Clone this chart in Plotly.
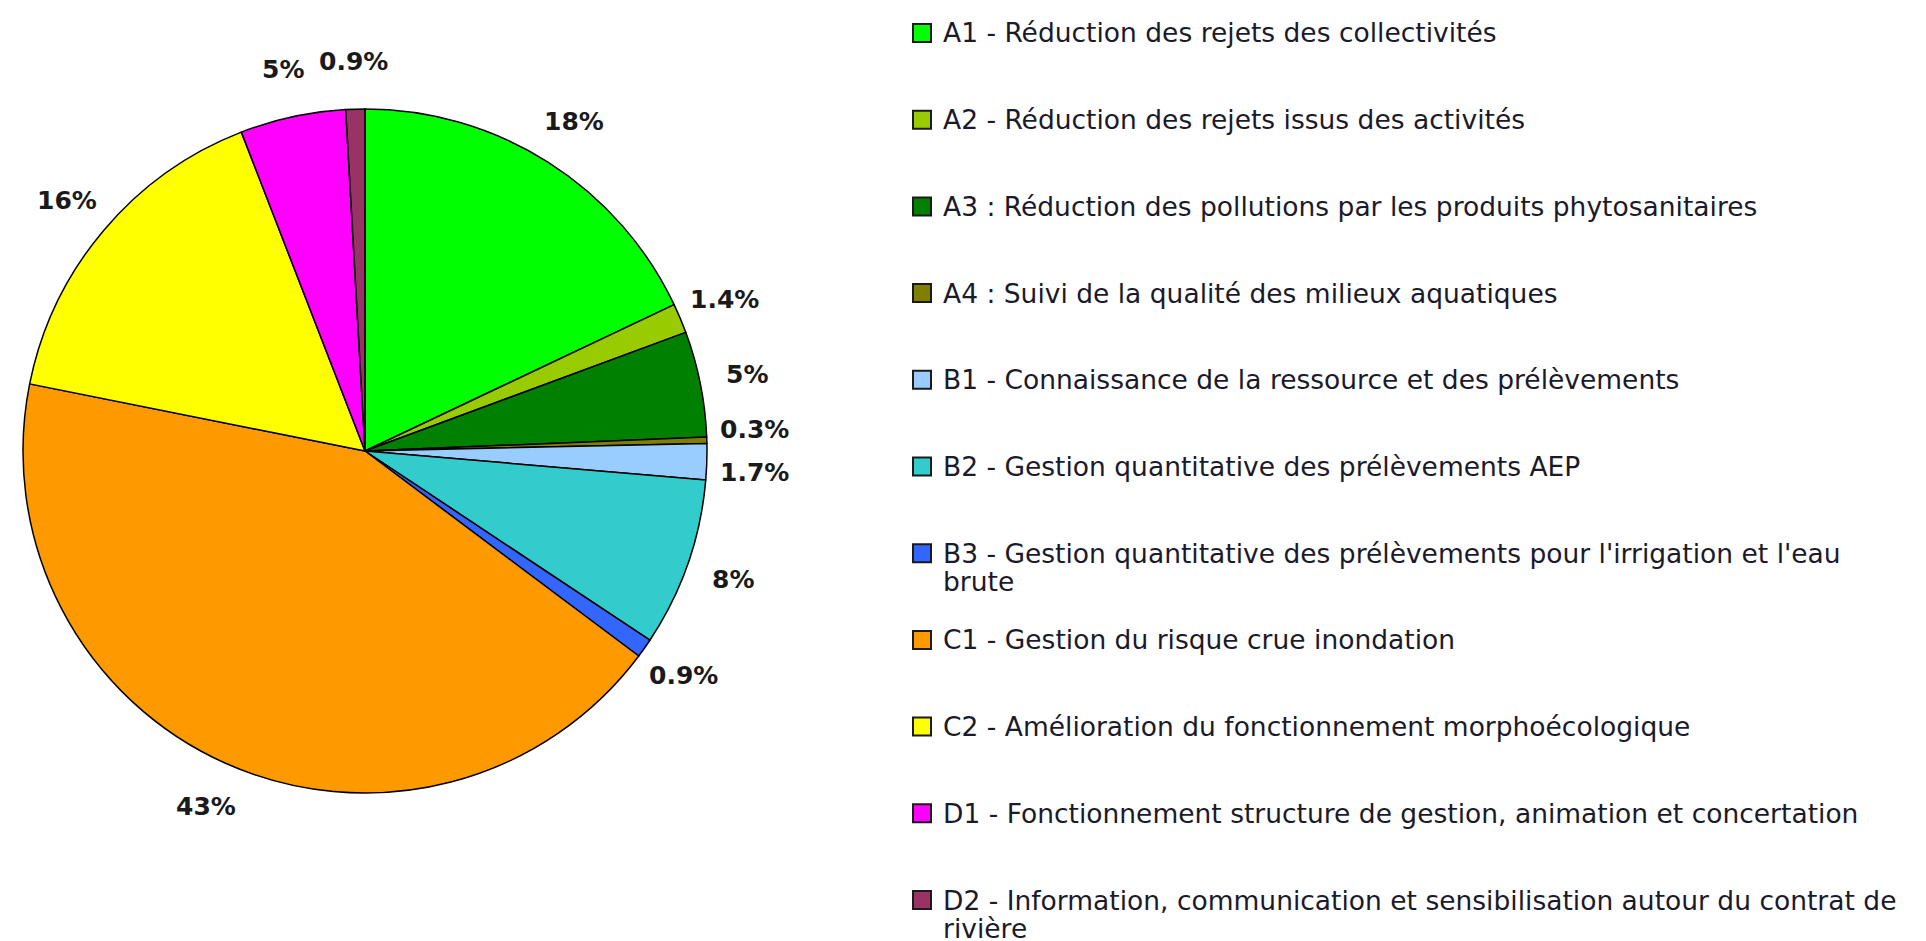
import math
import plotly.graph_objects as go

W, H = 1926, 941

labels = [
    "A1 - Réduction des rejets des collectivités",
    "A2 - Réduction des rejets issus des activités",
    "A3 : Réduction des pollutions par les produits phytosanitaires",
    "A4 : Suivi de la qualité des milieux aquatiques",
    "B1 - Connaissance de la ressource et des prélèvements",
    "B2 - Gestion quantitative des prélèvements AEP",
    "B3 - Gestion quantitative des prélèvements pour l'irrigation et l'eau<br>brute",
    "C1 - Gestion du risque crue inondation",
    "C2 - Amélioration du fonctionnement morphoécologique",
    "D1 - Fonctionnement structure de gestion, animation et concertation",
    "D2 - Information, communication et sensibilisation autour du contrat de<br>rivière",
]
values = [18, 1.4, 5, 0.3, 1.7, 8, 0.9, 43, 16, 5, 0.9]
pct_text = ["18%", "1.4%", "5%", "0.3%", "1.7%", "8%", "0.9%", "43%", "16%", "5%", "0.9%"]
colors = ["#00FF00", "#99CC00", "#008000", "#808000", "#99CCFF", "#33CCCC",
          "#3366FF", "#FF9900", "#FFFF00", "#FF00FF", "#993366"]

# pie geometry in pixels
cx, cy, R = 357, 443, 342
FONT = "DejaVu Sans"

fig = go.Figure()
fig.add_trace(go.Pie(
    labels=[l.replace("<br>", " ") for l in labels],
    values=values,
    text=pct_text,
    textinfo="none",
    sort=False,
    direction="clockwise",
    rotation=0,
    marker=dict(colors=colors, line=dict(color="#000000", width=1.5)),
    showlegend=False,
    hovertemplate="%{label}<br>%{text}<extra></extra>",
    domain=dict(x=[(cx - R) / W, (cx + R) / W], y=[(H - cy - R) / H, (H - cy + R) / H]),
))

shapes = []
annotations = []

# slice labels placed outside each slice, at the middle angle of the slice
lab_size = 25
r_lab = 1.14 * R
min_sep = 42
total = sum(values)
cum = 0.0
pos = []
for v in values:
    mid = (cum + v / 2) / total * 2 * math.pi
    cum += v
    pos.append([cx + r_lab * math.sin(mid), cy - r_lab * math.cos(mid)])

# push apart labels that sit too close on the same side
for _ in range(5):
    for side in (1, -1):
        idx = sorted([k for k in range(len(pos)) if (pos[k][0] - cx) * side > 40],
                     key=lambda k: pos[k][1])
        for a, b in zip(idx, idx[1:]):
            d = pos[b][1] - pos[a][1]
            if d < min_sep:
                shift = (min_sep - d) / 2
                pos[a][1] -= shift
                pos[b][1] += shift

for (px, py), t in zip(pos, pct_text):
    annotations.append(dict(
        xref="paper", yref="paper", x=px / W, y=1 - py / H,
        xanchor="center", yanchor="middle", showarrow=False, text=t,
        font=dict(family=FONT, size=lab_size, color="#1a1a1a", weight="bold"),
    ))

# custom legend (column of entries with fixed spacing)
leg_x_sym = 905
leg_sym = 18
leg_x_text = 933
leg_top = 25
leg_step = 86.7
leg_font = 26.5
leg_line = 28
for i, (lab, col) in enumerate(zip(labels, colors)):
    yc = leg_top + i * leg_step
    shapes.append(dict(
        type="rect", xref="paper", yref="paper",
        x0=leg_x_sym / W, x1=(leg_x_sym + leg_sym) / W,
        y0=1 - (yc - leg_sym / 2) / H, y1=1 - (yc + leg_sym / 2) / H,
        fillcolor=col, line=dict(color="#1a1a1a", width=2),
    ))
    for j, part in enumerate(lab.split("<br>")):
        annotations.append(dict(
            xref="paper", yref="paper", x=leg_x_text / W, y=1 - (yc + j * leg_line) / H,
            xanchor="left", yanchor="middle", align="left", showarrow=False,
            text=part, font=dict(family=FONT, size=leg_font, color="#1a1a2a"),
        ))

fig.update_layout(
    width=W, height=H,
    margin=dict(l=0, r=0, t=0, b=0),
    paper_bgcolor="white", plot_bgcolor="white",
    shapes=shapes, annotations=annotations,
)
fig.write_html("out.html")
